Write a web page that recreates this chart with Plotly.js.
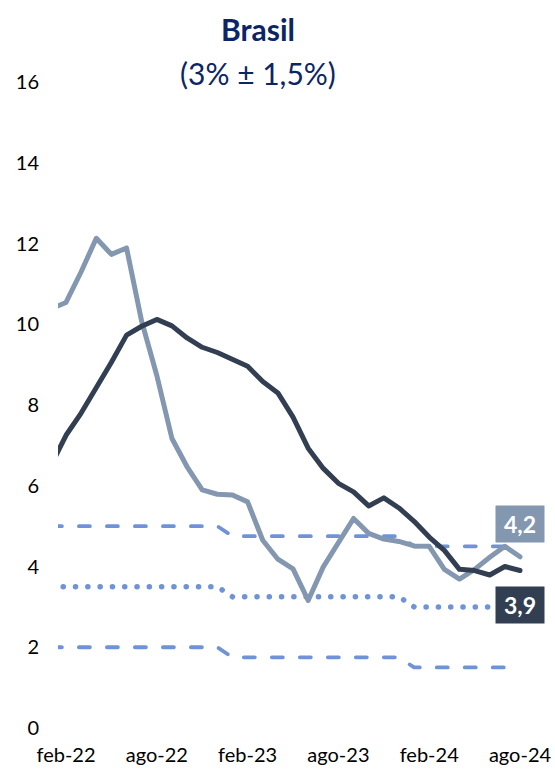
<!DOCTYPE html>
<html>
<head>
<meta charset="utf-8">
<script src="https://cdn.plot.ly/plotly-3.0.1.min.js"></script>
<style>
  html, body { margin: 0; padding: 0; background: #ffffff; }
  #chart { width: 555px; height: 773px; }
  #chart .scatterlayer .trace path.js-line { stroke-linecap: round; stroke-linejoin: round; }
</style>
</head>
<body>
<div id="chart"></div>
<script>
// Months (Spanish abbreviations), ene-22 .. ago-24
const months = [
  'ene-22','feb-22','mar-22','abr-22','may-22','jun-22','jul-22','ago-22','sep-22','oct-22','nov-22','dic-22',
  'ene-23','feb-23','mar-23','abr-23','may-23','jun-23','jul-23','ago-23','sep-23','oct-23','nov-23','dic-23',
  'ene-24','feb-24','mar-24','abr-24','may-24','jun-24','jul-24','ago-24'
];

// Headline inflation (light line)
const headline = [
  10.38, 10.54, 11.30, 12.13, 11.73, 11.89, 10.07, 8.73, 7.17, 6.47, 5.90, 5.79,
  5.77, 5.60, 4.65, 4.18, 3.94, 3.16, 3.99, 4.61, 5.19, 4.82, 4.68, 4.62,
  4.51, 4.50, 3.93, 3.69, 3.93, 4.23, 4.50, 4.24
];

// Core inflation (dark line)
const core = [
  6.50, 7.25, 7.80, 8.42, 9.06, 9.73, 9.95, 10.12, 9.96, 9.66, 9.43, 9.30,
  9.13, 8.96, 8.58, 8.30, 7.70, 6.93, 6.43, 6.06, 5.85, 5.50, 5.70, 5.45,
  5.12, 4.73, 4.40, 3.93, 3.90, 3.79, 4.00, 3.90
];

// Target band
const upper = [
  5.0,5.0,5.0,5.0,5.0,5.0,5.0,5.0,5.0,5.0,5.0,5.0,
  4.75,4.75,4.75,4.75,4.75,4.75,4.75,4.75,4.75,4.75,4.75,4.75,
  4.5,4.5,4.5,4.5,4.5,4.5,4.5,4.5
];
const target = [
  3.5,3.5,3.5,3.5,3.5,3.5,3.5,3.5,3.5,3.5,3.5,3.5,
  3.25,3.25,3.25,3.25,3.25,3.25,3.25,3.25,3.25,3.25,3.25,3.25,
  3.0,3.0,3.0,3.0,3.0,3.0,3.0,3.0
];
const lower = [
  2.0,2.0,2.0,2.0,2.0,2.0,2.0,2.0,2.0,2.0,2.0,2.0,
  1.75,1.75,1.75,1.75,1.75,1.75,1.75,1.75,1.75,1.75,1.75,1.75,
  1.5,1.5,1.5,1.5,1.5,1.5,1.5,1.5
];

const tickMonths = ['feb-22','ago-22','feb-23','ago-23','feb-24','ago-24'];
const lastHeadlineLabel = '4,2';
const lastCoreLabel = '3,9';

const FONT = 'Lato, "Open Sans", sans-serif';
const BAND = '#6F93D6';
const LIGHT = '#8497B0';
const DARK = '#323F52';
const NAVY = '#0B2566';

const traces = [
  { x: months, y: upper, mode: 'lines', line: { color: BAND, width: 3.8, dash: '11px,17px' }, hoverinfo: 'skip' },
  { x: months, y: lower, mode: 'lines', line: { color: BAND, width: 3.8, dash: '11px,17px' }, hoverinfo: 'skip' },
  { x: months, y: target, mode: 'lines', line: { color: BAND, width: 5.5, dash: '0.1px,12.2px' }, hoverinfo: 'skip' },
  { x: months, y: headline, mode: 'lines', line: { color: LIGHT, width: 5 } },
  { x: months, y: core, mode: 'lines', line: { color: DARK, width: 5 } }
];

const lastX = months[months.length - 1];

const layout = {
  width: 555,
  height: 773,
  margin: { l: 58, r: 25, t: 82, b: 45 },
  paper_bgcolor: '#ffffff',
  plot_bgcolor: '#ffffff',
  showlegend: false,
  font: { family: FONT, color: '#000000', size: 20 },
  xaxis: {
    type: 'category',
    range: [0.47, 31.66],
    tickvals: tickMonths,
    ticktext: tickMonths,
    showgrid: false, zeroline: false, showline: false, ticks: '',
    tickfont: { family: FONT, size: 20, color: '#000000' },
    ticklabelstandoff: 13
  },
  yaxis: {
    range: [0, 16],
    dtick: 2,
    showgrid: false, zeroline: false, showline: false, ticks: '',
    tickfont: { family: FONT, size: 20, color: '#000000' },
    ticklabelstandoff: 18
  },
  annotations: [
    { xref: 'paper', yref: 'paper', x: 0.424, y: 1.082, xanchor: 'center', yanchor: 'middle',
      text: '<b>Brasil</b>', showarrow: false, font: { family: FONT, size: 30, color: NAVY } },
    { xref: 'paper', yref: 'paper', x: 0.424, y: 1.0145, xanchor: 'center', yanchor: 'middle',
      text: '(3% ± 1,5%)', showarrow: false, font: { family: FONT, size: 30, color: NAVY } },
    { x: lastX, y: 5.05, xref: 'x', yref: 'y', xanchor: 'center', yanchor: 'middle',
      text: '<b>' + lastHeadlineLabel + '</b>', showarrow: false, bgcolor: LIGHT,
      width: 40, height: 28, borderpad: 4, font: { family: FONT, size: 23, color: '#ffffff' } },
    { x: lastX, y: 3.05, xref: 'x', yref: 'y', xanchor: 'center', yanchor: 'middle',
      text: '<b>' + lastCoreLabel + '</b>', showarrow: false, bgcolor: DARK,
      width: 40, height: 28, borderpad: 4, font: { family: FONT, size: 23, color: '#ffffff' } }
  ]
};

Plotly.newPlot('chart', traces, layout, { displayModeBar: false, staticPlot: true });
</script>
</body>
</html>
